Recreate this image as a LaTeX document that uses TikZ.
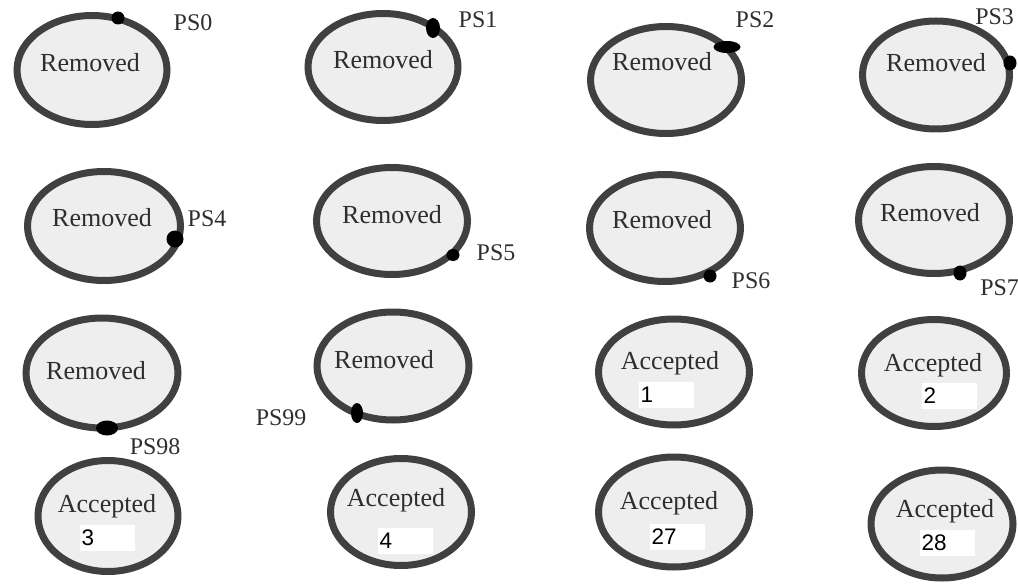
\documentclass[tikz,border=0pt]{standalone}
\usepackage{fontspec}
\setmainfont{Liberation Serif}
\newfontfamily\numfont{Liberation Sans}
\usetikzlibrary{shapes.geometric}
\definecolor{ringgray}{HTML}{404040}
\definecolor{insidegray}{HTML}{EEEEEE}
\definecolor{textgray}{HTML}{2E2E2E}

\begin{document}
\begin{tikzpicture}[x=0.025cm,y=-0.025cm]
		\tikzset{
			ring/.style 2 args = {ellipse, draw = ringgray, fill = insidegray, line width = 0.175cm,
				inner sep = 0pt, minimum width = #1*0.025cm - 0.175cm, minimum height = #2*0.025cm - 0.175cm},
			psdot/.style 2 args = {ellipse, fill = black, inner sep = 0pt,
				minimum width = #1*0.025cm, minimum height = #2*0.025cm},
			state/.style = {text = textgray, font = \fontsize{18.5}{20}\selectfont, inner sep = 0pt},
			pslabel/.style = {text = textgray, font = \fontsize{17}{19}\selectfont, inner sep = 0pt},
			count/.style = {fill = white, anchor = west, text = black, inner sep = 1pt,
				font = \numfont\fontsize{16}{18}\selectfont, minimum height = 0.65cm, text width = 1.3cm}
		}
		\useasboundingbox (0,0) rectangle (1018,584);
		% first row
		\node[ring = {157}{116}] (r0) at (92,70){};
		\node[ring = {157}{114}] (r1) at (383,67){};
		\node[ring = {158}{114}] (r2) at (666,80){};
		\node[ring = {154}{115}] (r3) at (936,75){};
		\node[state] (t0) at (90,63){Removed};
		\node[state] (t1) at (383,60){Removed};
		\node[state] (t2) at (662,62){Removed};
		\node[state] (t3) at (936,63){Removed};
		\node[psdot = {13}{13}] (d0) at (118,18){};
		\node[psdot = {14}{20}] (d1) at (433,28){};
		\node[psdot = {27}{12}] (d2) at (727,47){};
		\node[psdot = {13}{15}] (d3) at (1010,63){};
		\node[pslabel] (ps0) at (193,23){PS0};
		\node[pslabel] (ps1) at (478,20){PS1};
		\node[pslabel] (ps2) at (755,20){PS2};
		\node[pslabel,anchor = west] (ps3) at (975,17){PS3};
		% second row
		\node[ring = {160}{116}] (r4) at (104,226){};
		\node[ring = {158}{114}] (r5) at (392,221){};
		\node[ring = {158}{114}] (r6) at (665,228){};
		\node[ring = {158}{114}] (r7) at (934,220){};
		\node[state] (t4) at (102,218){Removed};
		\node[state] (t5) at (392,215){Removed};
		\node[state] (t6) at (662,220){Removed};
		\node[state] (t7) at (930,213){Removed};
		\node[psdot = {17}{17}] (d4) at (175,239){};
		\node[psdot = {13}{12}] (d5) at (453,255){};
		\node[psdot = {13}{13}] (d6) at (710,276){};
		\node[psdot = {13}{15}] (d7) at (960,273){};
		\node[pslabel] (ps4) at (207,219){PS4};
		\node[pslabel] (ps5) at (496,253){PS5};
		\node[pslabel] (ps6) at (751,281){PS6};
		\node[pslabel,anchor = west] (ps7) at (980,288){PS7};
		% third row
		\node[ring = {159}{117}] (r98) at (102,373){};
		\node[ring = {159}{115}] (r99) at (393,366){};
		\node[ring = {158}{113}] (a1) at (674,372){};
		\node[ring = {152}{114}] (a2) at (934,373){};
		\node[state] (t98) at (96,371){Removed};
		\node[state] (t99) at (384,360){Removed};
		\node[state] (ta1) at (670,363){Accepted};
		\node[state] (ta2) at (933,365){Accepted};
		\node[count] (n1) at (639,395){1};
		\node[count] (n2) at (922,396){2};
		\node[psdot = {22}{15}] (d98) at (107,428){};
		\node[psdot = {12}{20}] (d99) at (357,413){};
		\node[pslabel] (ps98) at (155,447){PS98};
		\node[pslabel] (ps99) at (281,418){PS99};
		% fourth row
		\node[ring = {147}{118}] (a3) at (108,516){};
		\node[ring = {148}{114}] (a4) at (401,512){};
		\node[ring = {158}{117}] (a27) at (674,512){};
		\node[ring = {149}{115}] (a28) at (942,524){};
		\node[state] (ta3) at (107,506){Accepted};
		\node[state] (ta4) at (396,500){Accepted};
		\node[state] (ta27) at (669,503){Accepted};
		\node[state] (ta28) at (945,511){Accepted};
		\node[count] (n3) at (80,538){3};
		\node[count] (n4) at (378,541){4};
		\node[count] (n27) at (650,537){27};
		\node[count] (n28) at (920,543){28};
	\end{tikzpicture}
\end{document}
